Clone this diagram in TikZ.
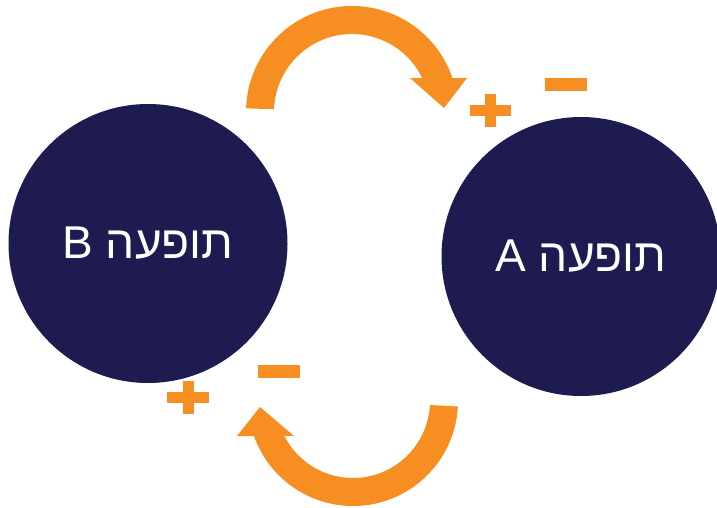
\documentclass[tikz,border=0pt]{standalone}
\usepackage{fontspec}
\setmainfont{Liberation Sans}
\newfontfamily\hebfont[Script=Hebrew]{Liberation Sans}
\TeXXeTstate=1
\usetikzlibrary{calc}
\definecolor{navy}{RGB}{30,27,80}
\definecolor{orng}{RGB}{246,142,34}
\begin{document}
\begin{tikzpicture}[x=1pt,y=-1pt,
  phen/.style={circle,fill=navy,minimum size=279pt,inner sep=0pt,text=white,font=\hebfont\fontsize{46}{50}\selectfont},
  loop/.style={fill=orng},
  sign/.style={fill=orng}]
\useasboundingbox (0,0) rectangle (717,508);
\node[phen] (B) at (148,243.5) {\beginR תופעה B\endR};
\node[phen] (A) at (581,256.5) {\beginR תופעה A\endR};
% top loop arrow
\coordinate (c1) at (352,112);
\fill[loop] ($(c1)+(182:106)$) arc[start angle=182,end angle=341.3,radius=106]
  -- (467,78) -- (444,108) -- (410,78) -- ($(c1)+(334.2:78)$)
  arc[start angle=334.2,end angle=182,radius=78] -- cycle;
% bottom loop arrow
\coordinate (c2) at (353,401);
\fill[loop] ($(c2)+(3:105)$) arc[start angle=3,end angle=160.5,radius=105]
  -- (237,436) -- (260,407) -- (294,436) -- ($(c2)+(153:77)$)
  arc[start angle=153,end angle=3,radius=77] -- cycle;
% signs
\fill[sign] (545,78) rectangle (587,91);
\fill[sign] (470,105) rectangle (511,116);
\fill[sign] (485,94) rectangle (496,127);
\fill[sign] (258,365) rectangle (300,378);
\fill[sign] (167,392) rectangle (209,403);
\fill[sign] (183,381) rectangle (193.5,414);
\end{tikzpicture}
\end{document}
